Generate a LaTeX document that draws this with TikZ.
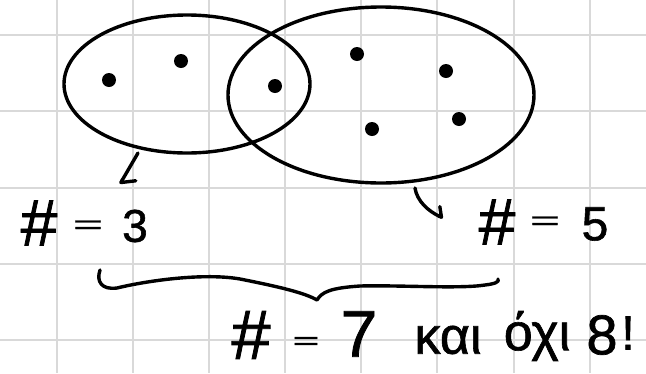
\documentclass[tikz,border=0pt]{standalone}
\usepackage{fontspec}
\setmainfont{Liberation Sans}
\newfontfamily\hwfont{Liberation Sans}[FakeBold=1.2]
\usetikzlibrary{shapes.geometric,arrows.meta}
\definecolor{gridgray}{HTML}{D9D9D9}
\tikzset{
  gridline/.style={draw=gridgray,line width=2.6pt},
  ink/.style={line width=3.4pt,line cap=round,line join=round},
  setshape/.style={ellipse,draw,line width=3.4pt,inner sep=0pt},
  dot/.style={circle,fill=black,inner sep=0pt,minimum size=14pt},
  harr/.style={ink,-{Straight Barb[harpoon,length=#1,width=2*#1+6pt,line width=3.4pt,round]}},
  hw/.style={inner sep=0pt,font=\hwfont\fontsize{#1}{#1}\selectfont}
}
\newcommand{\flateq}{\scalebox{1.15}[0.6]{=}}
\begin{document}
\begin{tikzpicture}[x=1pt,y=-1pt]
\useasboundingbox (0,0) rectangle (646,373);
\fill[white] (0,0) rectangle (646,373);
% grid
\foreach \gx in {57,133,209,285,361,437,514,590} \draw[gridline] (\gx,0) -- (\gx,373);
\foreach \gy in {35,111,188,264,340} \draw[gridline] (0,\gy) -- (646,\gy);
% sets
\node[setshape,minimum width=246pt,minimum height=138pt] (A) at (187,84) {};
\node[setshape,minimum width=306pt,minimum height=176pt] (B) at (381,95) {};
% elements
\node[dot] (d1) at (109,80) {};
\node[dot] (d2) at (181,61) {};
\node[dot] (d3) at (275,86) {};
\node[dot] (d4) at (357,54) {};
\node[dot] (d5) at (446,71) {};
\node[dot] (d6) at (372,129) {};
\node[dot] (d7) at (459,119) {};
% label # = 3
\node[hw=66pt] (l3a) at (39,223) {\#};
\node[hw=44pt] (l3b) at (88,227) {\flateq};
\node[hw=46pt] (l3c) at (135,226) {3};
% label # = 5
\node[hw=66pt] (l5a) at (497,222) {\#};
\node[hw=44pt] (l5b) at (545,223) {\flateq};
\node[hw=48pt] (l5c) at (595,224) {5};
% arrows
\coordinate (a1s) at (138,153);
\coordinate (a1e) at (120,184);
\draw[harr=9pt] (a1s) -- (a1e);
\coordinate (a2s) at (415,188);
\coordinate (a2e) at (443,218);
\draw[harr=6pt] (a2s) .. controls (417,201) and (428,211) .. (a2e);
% brace
\draw[ink] (100,270) .. controls (96,282) and (102,290) .. (117,288)
  .. controls (150,280) and (210,272) .. (245,280)
  .. controls (280,287) and (305,293) .. (317,300)
  .. controls (322,292) and (330,288) .. (360,286)
  .. controls (400,285) and (460,289) .. (485,285)
  .. controls (494,284) and (500,282) .. (498,279);
% label # = 7 και όχι 8!
\node[hw=70pt] (l7a) at (251,335) {\#};
\node[hw=40pt] (l7b) at (306,343) {\flateq};
\node[hw=66pt] (l7c) at (359,334) {7};
\node[hw=52pt] (l7d) at (448,340) {και};
\node[hw=52pt] (l7e) at (537,336) {όχι};
\node[hw=56pt] (l7f) at (602,335) {8};
\node[hw=48pt] (l7g) at (628,333) {!};
\end{tikzpicture}
\end{document}
